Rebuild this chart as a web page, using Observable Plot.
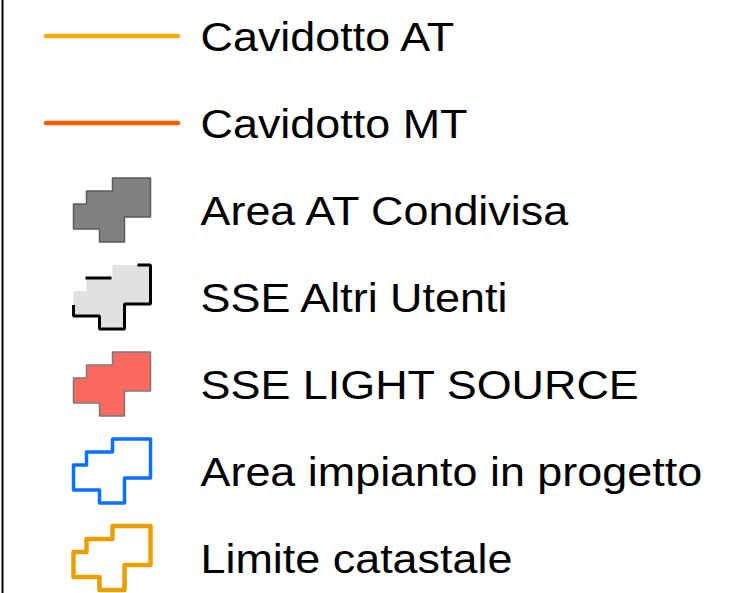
<!DOCTYPE html>
<html>
<head>
<meta charset="utf-8">
<script src="https://cdn.jsdelivr.net/npm/d3@7"></script>
<script src="https://cdn.jsdelivr.net/npm/@observablehq/plot@0.6"></script>
<style>
  html, body { margin: 0; padding: 0; background: #fff; }
  #chart svg { display: block; }
</style>
</head>
<body>
<div id="chart"></div>
<script>
// Legend entries
const labels = ["Cavidotto AT", "Cavidotto MT", "Area AT Condivisa", "SSE Altri Utenti", "SSE LIGHT SOURCE", "Area impianto in progetto", "Limite catastale"];
const kinds = ["line", "line", "poly", "partial", "poly", "poly", "poly"];
const strokeColors = ["#FFAA00", "#FF5A00", "#5a5a5a", "#000000", "#7a7a7a", "#0A70FF", "#E8A000"];
const fillColors = ["none", "none", "#808080", "#E1E1E1", "#FA6A60", "none", "none"];
const strokeWidths = [4.5, 4.5, 1.5, 3, 1.5, 3.5, 4.5];

// Icon glyph outline (px offsets from icon left / row centre)
const glyphX = [39, 77, 77, 51, 51, 26, 26, 0, 0, 13, 13, 39];
const glyphY = [-32, -32, 7, 7, 32, 32, 19, 19, -6, -6, -19, -19];

const W = 744, H = 593;
const rowStep = 87, firstRow = 35.5;
const iconLeft = 73, lineX0 = 45.5, lineX1 = 177.5, textX = 200;
const textStretch = 1.095;

const rows = labels.map((label, i) => ({label, i, kind: kinds[i], stroke: strokeColors[i], fill: fillColors[i], sw: strokeWidths[i]}));

const polyPts = rows.filter(r => r.kind !== "line").flatMap(r =>
  glyphX.map((gx, k) => ({x: iconLeft + gx, y: r.i + glyphY[k] / rowStep, z: r.i, fill: r.fill, stroke: r.kind === "partial" ? "none" : r.stroke, sw: r.sw}))
);
const outlined = polyPts.filter(p => p.stroke !== "none");

// partial outline for "SSE Altri Utenti"
const pr = rows.find(r => r.kind === "partial");
const segA = [[64, -32], [77, -32], [77, 7], [51, 7], [51, 32], [26, 32], [26, 19], [0, 19], [0, 8]];
const segB = [[12, -19], [38, -19]];
const partialPts = [...segA.map(p => ({p, z: "a"})), ...segB.map(p => ({p, z: "b"}))]
  .map(d => ({x: iconLeft + d.p[0], y: pr.i + d.p[1] / rowStep, z: d.z}));

const linePts = rows.filter(r => r.kind === "line").flatMap(r => [
  {x: lineX0, y: r.i, z: r.i, stroke: r.stroke, sw: r.sw},
  {x: lineX1, y: r.i, z: r.i, stroke: r.stroke, sw: r.sw}
]);

const plot = Plot.plot({
  width: W, height: H,
  margin: 0,
  style: {background: "#fff", fontFamily: "'Liberation Sans', Arial, sans-serif"},
  x: {domain: [0, W], range: [0, W], axis: null},
  y: {domain: [-firstRow / rowStep, (H - firstRow) / rowStep], range: [0, H], axis: null},
  marks: [
    Plot.ruleX([2], {stroke: "#000", strokeWidth: 2}),
    Plot.line(linePts, {x: "x", y: "y", z: "z", stroke: "stroke", strokeWidth: 4.5, strokeLinecap: "round"}),
    Plot.line(polyPts, {x: "x", y: "y", z: "z", fill: "fill", stroke: "none", curve: "linear-closed"}),
    Plot.line(outlined.filter(p => p.sw < 2), {x: "x", y: "y", z: "z", stroke: "stroke", strokeWidth: 1.5, curve: "linear-closed", strokeLinejoin: "miter"}),
    Plot.line(outlined.filter(p => p.z === 5), {x: "x", y: "y", z: "z", stroke: "stroke", strokeWidth: 3.5, curve: "linear-closed", strokeLinejoin: "round"}),
    Plot.line(outlined.filter(p => p.z === 6), {x: "x", y: "y", z: "z", stroke: "stroke", strokeWidth: 4.5, curve: "linear-closed", strokeLinejoin: "round"}),
    Plot.line(partialPts, {x: "x", y: "y", z: "z", stroke: pr.stroke, strokeWidth: pr.sw, strokeLinejoin: "miter", strokeLinecap: "butt"}),
    Plot.text(rows, {x: () => textX, y: "i", text: "label", textAnchor: "start", fontSize: 41, fill: "#000", dy: 2, className: "legend-label"})
  ]
});
document.getElementById("chart").appendChild(plot);
// widen the label glyphs horizontally (reference text is slightly wider than Liberation Sans)
d3.select(plot).selectAll(".legend-label text").each(function() {
  const w = this.getComputedTextLength();
  if (w > 0) {
    this.setAttribute("textLength", (w * textStretch).toFixed(1));
    this.setAttribute("lengthAdjust", "spacingAndGlyphs");
  }
});
</script>
</body>
</html>
